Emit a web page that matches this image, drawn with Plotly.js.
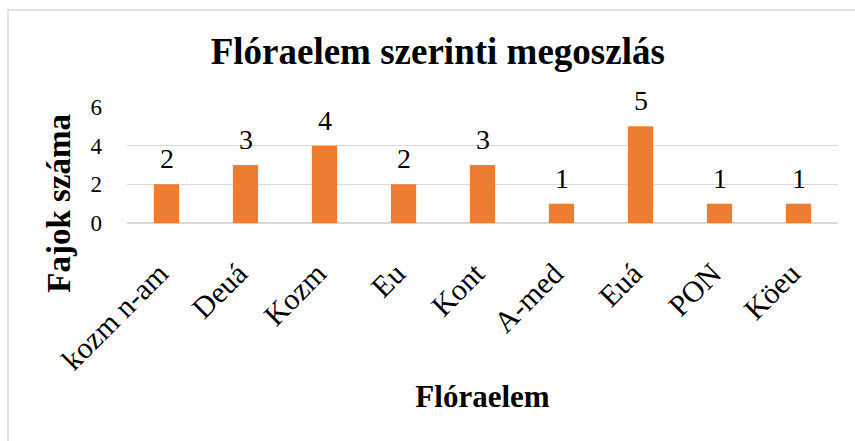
<!DOCTYPE html>
<html>
<head>
<meta charset="utf-8">
<script src="https://cdn.plot.ly/plotly-3.0.1.min.js"></script>
<style>html,body{margin:0;padding:0;background:#fff;}#chart{width:855px;height:441px;}</style>
</head>
<body>
<div id="chart"></div>
<script>
const categories = ["kozm n-am", "Deuá", "Kozm", "Eu", "Kont", "A-med", "Euá", "PON", "Köeu"];
const counts = [2, 3, 4, 2, 3, 1, 5, 1, 1];
const yTicks = [0, 2, 4, 6];

const FONT = 'Liberation Serif, Times New Roman, Tinos, serif';

const trace = {
  type: 'bar',
  x: categories,
  y: counts,
  marker: {color: '#ED7D31'},
  hoverinfo: 'x+y'
};

const labels = categories.map((c, i) => ({
  x: c, y: counts[i], xref: 'x', yref: 'y',
  text: String(counts[i]), showarrow: false,
  yanchor: 'bottom', yshift: 8,
  font: {family: FONT, size: 28, color: '#000'}
}));

const yTitle = {
  text: '<b>Fajok száma</b>', showarrow: false,
  xref: 'paper', yref: 'paper', x: -0.095, y: 0.17,
  xanchor: 'center', yanchor: 'middle', textangle: -90,
  font: {family: FONT, size: 33, color: '#000'}
};

const layout = {
  width: 855, height: 441,
  paper_bgcolor: '#fff', plot_bgcolor: '#fff',
  margin: {l: 127, r: 17, t: 107, b: 218},
  bargap: 0.68,
  showlegend: false,
  font: {family: FONT, color: '#000'},
  title: {
    text: '<b>Flóraelem szerinti megoszlás</b>',
    font: {family: FONT, size: 37, color: '#000'},
    xref: 'container', x: 0.512, xanchor: 'center',
    yref: 'container', y: 0.885, yanchor: 'middle'
  },
  xaxis: {
    type: 'category',
    tickangle: -45,
    tickfont: {family: FONT, size: 30, color: '#000'},
    ticks: 'outside', ticklen: 20, tickcolor: 'rgba(0,0,0,0)',
    ticklabelshift: -7,
    showgrid: false, zeroline: false,
    showline: false,
    title: {text: '<b>Flóraelem</b>', font: {family: FONT, size: 31, color: '#000'}, standoff: 10}
  },
  yaxis: {
    range: [0, 6],
    tickvals: yTicks,
    ticktext: yTicks.map(String),
    tickfont: {family: FONT, size: 23, color: '#000'},
    ticks: '',
    ticklabelstandoff: 24,
    showgrid: true, gridcolor: '#d9d9d9', gridwidth: 1.5,
    zeroline: true, zerolinecolor: '#d9d9d9', zerolinewidth: 1.5,
    showline: false
  },
  annotations: labels.concat([yTitle]),
  shapes: [{
    type: 'rect', xref: 'paper', yref: 'paper',
    x0: -0.1674, x1: 1.04, y0: -1.95, y1: 1.836,
    line: {color: '#d9d9d9', width: 1.5}, fillcolor: 'rgba(0,0,0,0)', layer: 'below'
  }]
};

Plotly.newPlot('chart', [trace], layout, {displayModeBar: false, staticPlot: true});
</script>
</body>
</html>
